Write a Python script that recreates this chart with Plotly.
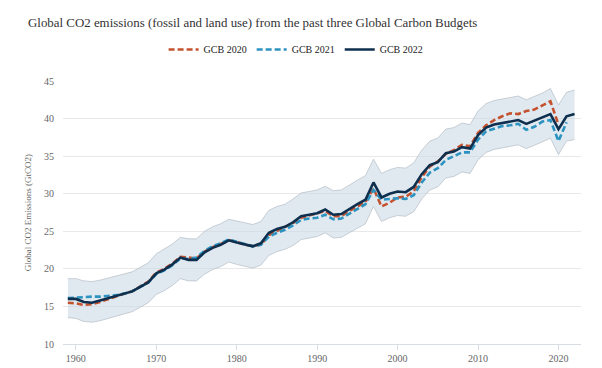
import plotly.graph_objects as go

years_2022 = list(range(1959, 2023))
gcb2022 = [16.0, 16.0, 15.6, 15.5, 15.8, 16.1, 16.4, 16.7, 17.0, 17.6,
           18.2, 19.4, 19.9, 20.6, 21.5, 21.2, 21.2, 22.2, 22.8, 23.2,
           23.8, 23.5, 23.2, 23.0, 23.4, 24.8, 25.3, 25.6, 26.2, 27.0,
           27.2, 27.4, 27.9, 27.2, 27.3, 28.0, 28.6, 29.2, 31.5, 29.5,
           30.0, 30.3, 30.2, 30.9, 32.6, 33.8, 34.2, 35.4, 35.6, 36.2,
           36.0, 37.8, 38.8, 39.2, 39.4, 39.6, 39.8, 39.3, 39.7, 40.2,
           40.6, 38.6, 40.3, 40.6]
upper_2022 = [18.7, 18.7, 18.4, 18.3, 18.5, 18.8, 19.1, 19.3, 19.6, 20.2,
              20.8, 22.0, 22.6, 23.3, 24.2, 24.0, 24.0, 25.0, 25.6, 26.0,
              26.6, 26.4, 26.1, 25.9, 26.3, 27.8, 28.3, 28.6, 29.3, 30.1,
              30.3, 30.5, 31.0, 30.4, 30.5, 31.2, 31.8, 32.4, 34.6, 32.7,
              33.2, 33.5, 33.4, 34.1, 35.8, 37.0, 37.4, 38.6, 38.8, 39.4,
              39.2, 41.0, 42.0, 42.4, 42.6, 42.8, 43.0, 42.5, 42.9, 43.4,
              44.0, 41.8, 43.5, 43.8]
lower_2022 = [13.5, 13.4, 13.0, 12.9, 13.1, 13.4, 13.7, 14.0, 14.3, 14.9,
              15.5, 16.6, 17.1, 17.8, 18.7, 18.4, 18.4, 19.3, 19.9, 20.3,
              20.9, 20.6, 20.3, 20.1, 20.5, 21.8, 22.3, 22.6, 23.1, 23.9,
              24.1, 24.3, 24.8, 24.1, 24.2, 24.8, 25.4, 26.0, 28.3, 26.3,
              26.8, 27.1, 27.0, 27.6, 29.3, 30.5, 30.9, 32.1, 32.3, 32.9,
              32.7, 34.5, 35.5, 35.9, 36.1, 36.3, 36.5, 36.0, 36.4, 36.9,
              37.4, 35.2, 37.0, 37.2]

years_2020 = list(range(1959, 2021))
gcb2020 = [15.5, 15.4, 15.2, 15.3, 15.6, 16.0, 16.4, 16.7, 17.0, 17.6,
           18.3, 19.5, 20.0, 20.7, 21.6, 21.5, 21.4, 22.3, 22.9, 23.3,
           23.8, 23.6, 23.2, 23.1, 23.2, 24.5, 25.0, 25.6, 26.1, 26.8,
           27.1, 27.4, 27.7, 27.0, 27.0, 27.7, 28.3, 28.9, 30.7, 28.3,
           28.8, 29.5, 29.6, 30.3, 32.2, 33.6, 34.3, 35.3, 35.8, 36.5,
           36.3, 38.1, 39.1, 39.8, 40.3, 40.7, 40.6, 41.0, 41.2, 41.8,
           42.3, 39.2]

years_2021 = list(range(1959, 2022))
gcb2021 = [16.1, 16.2, 16.2, 16.3, 16.3, 16.4, 16.5, 16.7, 17.0, 17.6,
           18.2, 19.3, 19.8, 20.5, 21.4, 21.3, 21.5, 22.4, 23.0, 23.4,
           23.9, 23.6, 23.3, 23.0, 23.2, 24.3, 24.8, 25.2, 25.8, 26.5,
           26.7, 26.8, 27.2, 26.6, 26.7, 27.3, 27.9, 28.6, 30.5, 29.2,
           29.3, 29.4, 29.3, 29.8, 31.5, 32.8, 33.4, 34.5, 35.0, 35.5,
           35.5, 37.2, 38.3, 38.7, 39.0, 39.1, 39.3, 38.5, 38.9, 39.6,
           39.8, 37.0, 39.5]

x_ticks = [1960, 1970, 1980, 1990, 2000, 2010, 2020]
y_ticks = [10, 15, 20, 25, 30, 35, 40, 45]

FONT = "Liberation Serif"

fig = go.Figure()
fig.add_trace(go.Scatter(x=years_2022, y=upper_2022, mode="lines",
                         line=dict(color="rgba(170,180,190,0.6)", width=1),
                         showlegend=False, hoverinfo="skip"))
fig.add_trace(go.Scatter(x=years_2022, y=lower_2022, mode="lines",
                         line=dict(color="rgba(170,180,190,0.6)", width=1),
                         fill="tonexty", fillcolor="rgba(205,218,230,0.6)",
                         showlegend=False, hoverinfo="skip"))
fig.add_trace(go.Scatter(x=years_2020, y=gcb2020, mode="lines", name="GCB 2020",
                         line=dict(color="#c4522f", width=2.6, dash="6px,3px")))
fig.add_trace(go.Scatter(x=years_2021, y=gcb2021, mode="lines", name="GCB 2021",
                         line=dict(color="#2c93c0", width=2.6, dash="6px,3px")))
fig.add_trace(go.Scatter(x=years_2022, y=gcb2022, mode="lines", name="GCB 2022",
                         line=dict(color="#0e2f4e", width=2.6)))

fig.update_layout(
    width=602, height=368,
    margin=dict(l=55, r=29, t=73, b=19),
    paper_bgcolor="white", plot_bgcolor="white",
    font=dict(family=FONT, color="#666666", size=10),
    title=dict(text="Global CO2 emissions (fossil and land use) from the past three Global Carbon Budgets",
               x=20/602, xanchor="left", y=1-14/368, yanchor="middle",
               font=dict(family=FONT, size=12.9, color="#333333")),
    legend=dict(orientation="h", x=0.45, xanchor="center", y=1.12, yanchor="middle",
                font=dict(family=FONT, size=10, color="#222222"),
                itemwidth=30, traceorder="normal"),
    showlegend=True,
)
fig.update_xaxes(range=[1958.4, 2022.8], tickvals=x_ticks, showgrid=False,
                 showline=True, linecolor="#d8dde3", linewidth=1,
                 ticks="outside", ticklen=5, tickcolor="#d8dde3",
                 tickfont=dict(family=FONT, size=10, color="#666666"), zeroline=False)
fig.update_yaxes(range=[10, 45], tickvals=y_ticks, showgrid=True, gridcolor="#e8e8e8",
                 zeroline=False, showline=False, ticks="", ticklabelstandoff=8,
                 tickfont=dict(family=FONT, size=10, color="#666666"),
                 title=dict(text="Global CO2 Emissions (GtCO2)", standoff=10,
                            font=dict(family=FONT, size=9, color="#666666")))

fig.write_html("out.html")
